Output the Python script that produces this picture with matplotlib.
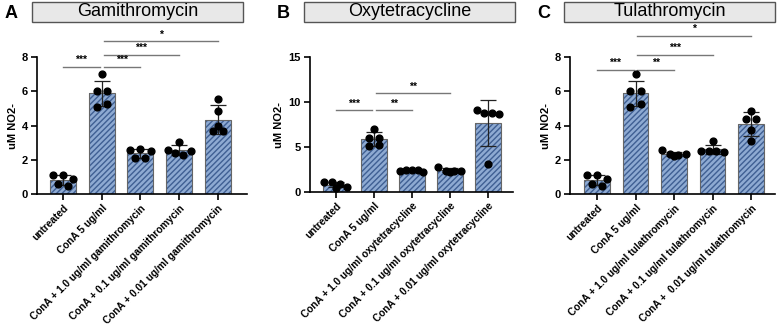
import matplotlib
matplotlib.use("Agg")
import matplotlib.pyplot as plt
import numpy as np
from matplotlib.patches import Rectangle

plt.rcParams['font.family'] = ['Liberation Sans', 'DejaVu Sans']

# ---------------- data ----------------
untreated = [1.1, 1.1, 0.9, 0.6, 0.45]
cona = [7.0, 6.0, 6.0, 5.1, 5.25]

gami_10 = [2.58, 2.62, 2.52, 2.1, 2.1]
gami_01 = [2.58, 3.06, 2.42, 2.3, 2.5]
gami_001 = [5.55, 4.85, 3.65, 3.95, 3.65]

oxy_10 = [2.35, 2.45, 2.45, 2.4, 2.25]
oxy_01 = [2.8, 2.35, 2.35, 2.3, 2.2]
oxy_001 = [9.1, 8.8, 8.8, 8.65, 3.1]

tula_10 = [2.55, 2.35, 2.3, 2.35, 2.2]
tula_01 = [3.07, 2.5, 2.5, 2.5, 2.45]
tula_001 = [4.82, 4.4, 4.4, 3.72, 3.07]

titulos = ['Gamithromycin', 'Oxytetracycline', 'Tulathromycin']
letras = ['A', 'B', 'C']
drogas = ['gamithromycin', 'oxytetracycline', 'tulathromycin']
doses = ['1.0', '0.1', '0.01']

# significance: (bar i, bar j, height, stars)
sig_a = [(0, 1, 7.42, '***'), (1, 2, 7.42, '***'), (1, 3, 8.14, '***'), (1, 4, 8.93, '*')]
sig_b = [(0, 1, 9.1, '***'), (1, 2, 9.1, '**'), (1, 3, 10.95, '**')]
sig_c = [(0, 1, 7.26, '***'), (1, 2, 7.26, '**'), (1, 3, 8.13, '***'), (1, 4, 9.24, '*')]

ymax = [8, 15, 8]
yticks = [[0, 2, 4, 6, 8], [0, 5, 10, 15], [0, 2, 4, 6, 8]]

grupos = [
    [untreated, cona, gami_10, gami_01, gami_001],
    [untreated, cona, oxy_10, oxy_01, oxy_001],
    [untreated, cona, tula_10, tula_01, tula_001],
]
sigs = [sig_a, sig_b, sig_c]


def espalha(vals, delta):
    # beeswarm simples: pontos com y parecido ficam lado a lado
    vals = np.asarray(vals, float)
    ordem = np.argsort(-vals, kind='stable')
    off = np.zeros(len(vals))
    blocos = [[ordem[0]]]
    for idx in ordem[1:]:
        if vals[blocos[-1][0]] - vals[idx] < delta:
            blocos[-1].append(idx)
        else:
            blocos.append([idx])
    for g in blocos:
        g = sorted(g)
        n = len(g)
        if n > 1:
            passo = min(0.26, 0.6 / (n - 1))
            for m, idx in enumerate(g):
                off[idx] = (m - (n - 1) / 2) * passo
    return off


# ---------------- layout ----------------
W, H = 777, 329
pos = [(37, 247, 194), (310, 513, 192), (570, 775, 194)]
caixa = [(32, 243), (304, 515), (564, 775)]
xlims = [(-0.67, 4.75), (-0.68, 4.66), (-0.70, 4.62)]

fig = plt.figure(figsize=(W / 100, H / 100), dpi=100)

for k in range(3):
    x0, x1, yb = pos[k]
    ax = fig.add_axes([x0 / W, 1 - yb / H, (x1 - x0) / W, (yb - 57) / H])
    dados = grupos[k]
    medias = [np.mean(d) for d in dados]
    sds = [np.std(d, ddof=1) for d in dados]
    xs = np.arange(5)
    ax.bar(xs, medias, width=0.67, color='#8eaad2', edgecolor='#3f5f93',
           hatch='//////', linewidth=0.0, zorder=1)
    ax.bar(xs, medias, width=0.67, color='none', edgecolor='#666666',
           linewidth=0.8, zorder=2)
    ax.errorbar(xs, medias, yerr=sds, fmt='none', ecolor='#222222',
                elinewidth=0.9, capsize=6, capthick=0.9, zorder=3)
    for i, d in enumerate(dados):
        ax.scatter(espalha(d, ymax[k] * 0.0375) + i, d, s=24, color='black',
                   zorder=4, clip_on=False)

    for (i, j, h, st) in sigs[k]:
        a = i + (0.05 if i == 1 else 0)
        b = j - (0.05 if j == 1 else 0)
        ax.plot([a, b], [h, h], color='#777777', lw=1, clip_on=False)
        ax.text((a + b) / 2, h + ymax[k] * 0.012, st, ha='center', va='bottom',
                fontsize=7.5, fontweight='bold')

    ax.set_xlim(*xlims[k])
    ax.set_ylim(0, ymax[k])
    ax.set_yticks(yticks[k])
    ax.spines['top'].set_visible(False)
    ax.spines['right'].set_visible(False)
    ax.spines['left'].set_linewidth(1.2)
    ax.spines['bottom'].set_linewidth(1.2)
    ax.tick_params(width=1.2, length=4.5, labelsize=8, pad=2)
    for t in ax.get_yticklabels():
        t.set_fontweight('bold')
    rot = ['untreated', 'ConA 5 ug/ml'] + ['ConA + %s ug/ml %s' % (d, drogas[k]) for d in doses]
    if k == 2:
        rot[4] = 'ConA +  0.01 ug/ml tulathromycin'
    ax.set_xticks(xs)
    ax.set_xticklabels(rot, rotation=45, ha='right', rotation_mode='anchor',
                       fontsize=7.3, fontweight='bold')
    ax.set_ylabel('uM NO2-', fontsize=8, fontweight='bold', labelpad=3)

    # title box
    c0, c1 = caixa[k]
    fig.patches.append(Rectangle((c0 / W, 1 - 22 / H), (c1 - c0) / W, 20 / H,
                                 transform=fig.transFigure, facecolor='#e8e8e8',
                                 edgecolor='#555555', linewidth=1))
    fig.text((c0 + c1) / 2 / W, 1 - 12 / H, titulos[k], ha='center', va='center',
             fontsize=13)
    fig.text((c0 - 27) / W, 1 - 13 / H, letras[k], ha='left', va='center',
             fontsize=13, fontweight='bold')

fig.savefig('out.png', dpi=100)
